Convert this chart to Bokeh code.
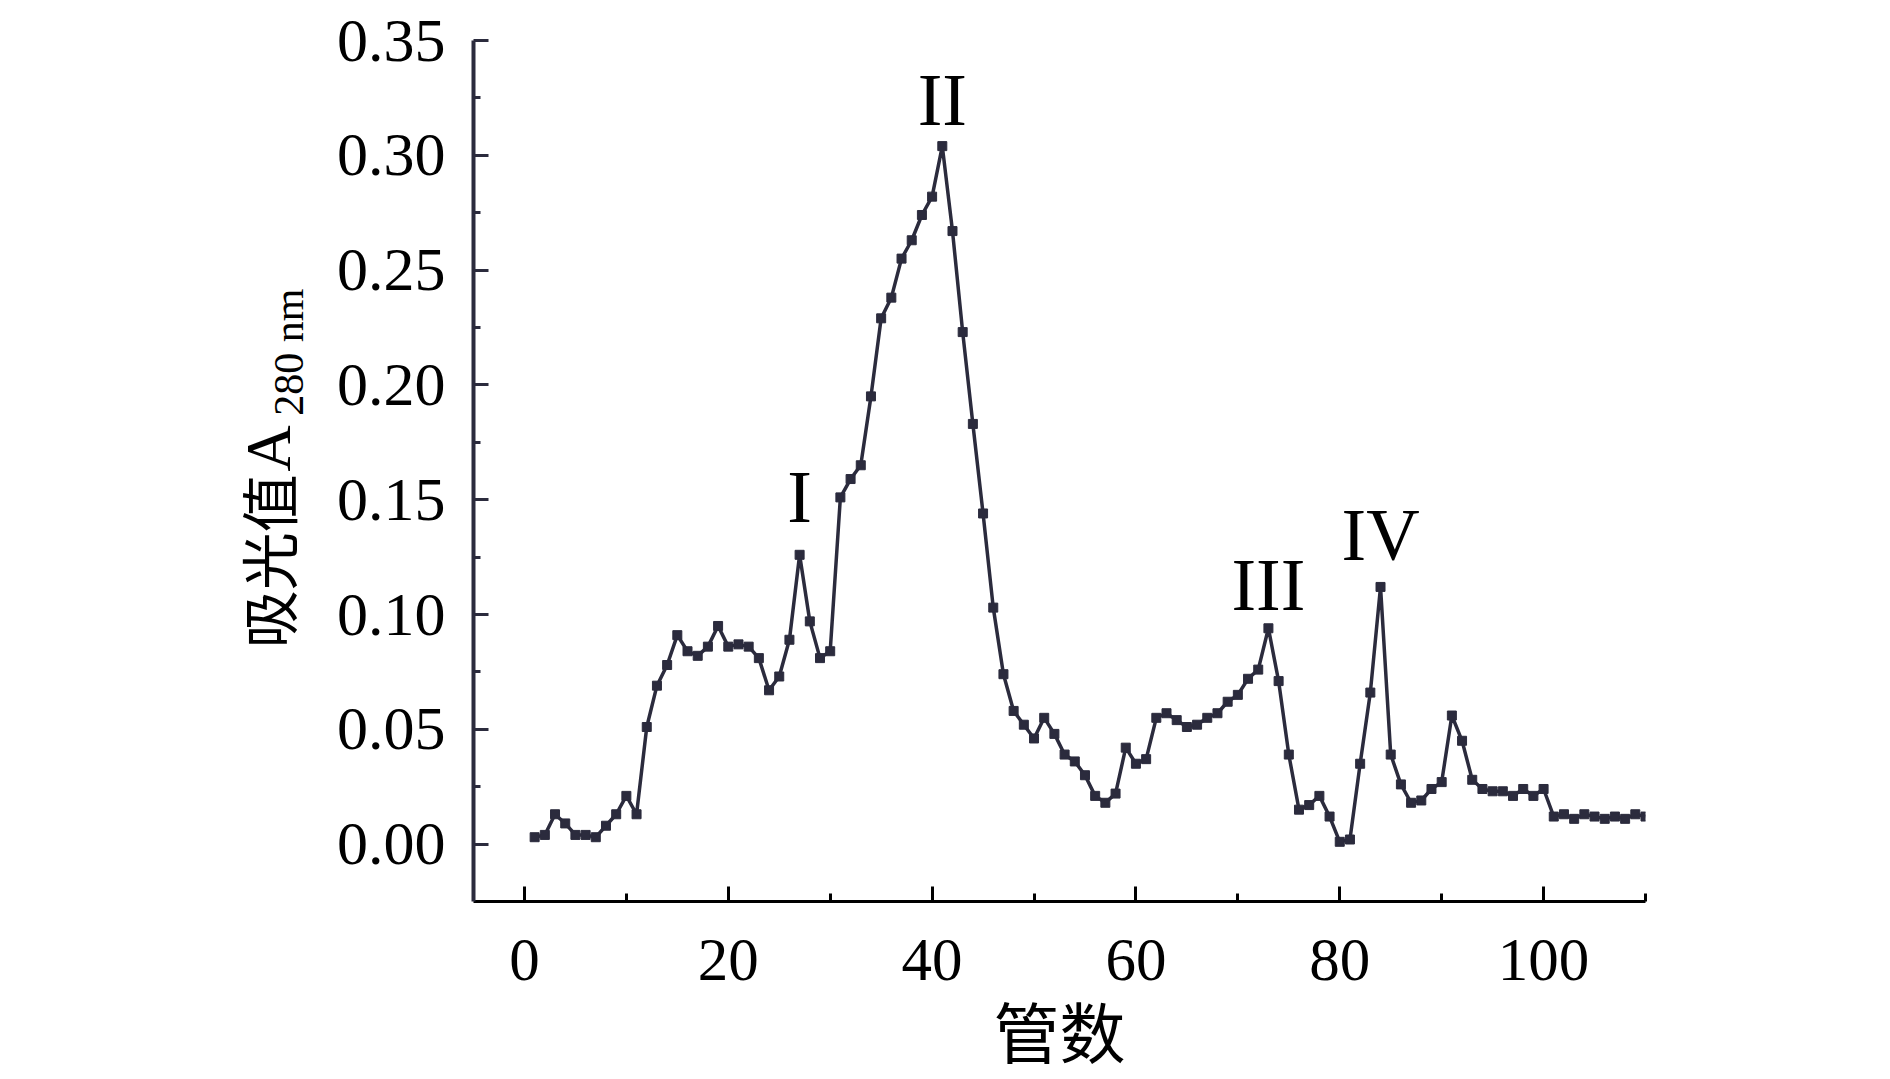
from bokeh.plotting import figure
from bokeh.layouts import row
from bokeh.models import Range1d, FixedTicker, PrintfTickFormatter, ColumnDataSource
from bokeh.core.properties import value
from bokeh.embed import file_html
from bokeh.resources import INLINE

# ---- data ----
tubes = list(range(1, 111))
absorbance = [
    0.003, 0.004, 0.013, 0.009, 0.004, 0.004, 0.003, 0.008, 0.013, 0.021,
    0.013, 0.051, 0.069, 0.078, 0.091, 0.084, 0.082, 0.086, 0.095, 0.086,
    0.087, 0.086, 0.081, 0.067, 0.073, 0.089, 0.126, 0.097, 0.081, 0.084,
    0.151, 0.159, 0.165, 0.195, 0.229, 0.238, 0.255, 0.263, 0.274, 0.282,
    0.304, 0.267, 0.223, 0.183, 0.144, 0.103, 0.074, 0.058, 0.052, 0.046,
    0.055, 0.048, 0.039, 0.036, 0.030, 0.021, 0.018, 0.022, 0.042, 0.035,
    0.037, 0.055, 0.057, 0.054, 0.051, 0.052, 0.055, 0.057, 0.062, 0.065,
    0.072, 0.076, 0.094, 0.071, 0.039, 0.015, 0.017, 0.021, 0.012, 0.001,
    0.002, 0.035, 0.066, 0.112, 0.039, 0.026, 0.018, 0.019, 0.024, 0.027,
    0.056, 0.045, 0.028, 0.024, 0.023, 0.023, 0.021, 0.024, 0.021, 0.024,
    0.012, 0.013, 0.011, 0.013, 0.012, 0.011, 0.012, 0.011, 0.013, 0.012,
]
peak_labels = ["I", "II", "III", "IV"]
peak_tubes = [27, 41, 73, 84]
x_ticks = [0, 20, 40, 60, 80, 100]
x_minor_ticks = [10, 30, 50, 70, 90, 110]
y_ticks = [0.00, 0.05, 0.10, 0.15, 0.20, 0.25, 0.30, 0.35]
y_minor_ticks = [0.025, 0.075, 0.125, 0.175, 0.225, 0.275, 0.325]
x_axis_title = "管数"
y_axis_title_cjk = "吸光值"
y_axis_title_a = "A"
y_axis_title_sub = "280 nm"

LINE = "#2b2b3d"
SERIF = "Liberation Serif"
CJK = "Noto Sans CJK SC"
H = 1071
TITLE_W = 330

# ---------- main plot ----------
p = figure(
    frame_width=1172, frame_height=861,
    min_border_left=473 - TITLE_W, min_border_right=229,
    min_border_top=40, min_border_bottom=170,
    x_range=Range1d(-5, 110), y_range=Range1d(-0.025, 0.35),
    output_backend="svg", toolbar_location=None,
)
p.outline_line_color = None
p.xgrid.visible = False
p.ygrid.visible = False
p.background_fill_color = "white"
p.border_fill_color = "white"

src = ColumnDataSource(data=dict(x=tubes, y=absorbance))
p.line("x", "y", source=src, line_color=LINE, line_width=3.5)
p.scatter("x", "y", source=src, marker="square", size=9,
          fill_color=LINE, line_color=LINE)

# peak labels (offset upward from each peak, in pixels)
peak_vals = [absorbance[t - 1] for t in peak_tubes]
label_dy = [-58, -46, -43, -52]
lsrc = ColumnDataSource(data=dict(x=peak_tubes, y=peak_vals, t=peak_labels, dy=label_dy))
p.text("x", "y", text="t", source=lsrc, y_offset="dy",
       text_align="center", text_baseline="alphabetic",
       text_font=value(SERIF), text_font_size="74px", text_color="black")

# x axis
xa = p.xaxis[0]
xa.ticker = FixedTicker(ticks=x_ticks, minor_ticks=x_minor_ticks)
xa.axis_line_color = "black"
xa.axis_line_width = 3
xa.major_tick_line_color = "black"
xa.minor_tick_line_color = "black"
xa.major_tick_line_width = 3
xa.minor_tick_line_width = 3
xa.major_tick_in = 15
xa.major_tick_out = 0
xa.minor_tick_in = 8
xa.minor_tick_out = 0
xa.major_label_text_font = SERIF
xa.major_label_text_font_size = "61px"
xa.major_label_text_color = "black"
xa.major_label_standoff = 38
xa.axis_label = x_axis_title
xa.axis_label_text_font = CJK
xa.axis_label_text_font_size = "66px"
xa.axis_label_text_font_style = "normal"
xa.axis_label_text_color = "black"
xa.axis_label_standoff = -2

# y axis
ya = p.yaxis[0]
ya.ticker = FixedTicker(ticks=y_ticks, minor_ticks=y_minor_ticks)
ya.formatter = PrintfTickFormatter(format="%.2f")
ya.axis_line_color = LINE
ya.axis_line_width = 4
ya.major_tick_line_color = LINE
ya.minor_tick_line_color = LINE
ya.major_tick_line_width = 3
ya.minor_tick_line_width = 3
ya.major_tick_in = 15
ya.major_tick_out = 0
ya.minor_tick_in = 7
ya.minor_tick_out = 0
ya.major_label_text_font = SERIF
ya.major_label_text_font_size = "62px"
ya.major_label_text_color = "black"
ya.major_label_standoff = 28

# ---------- y-axis title panel (left strip, pixel coordinates, y up) ----------
t = figure(
    width=TITLE_W, height=H,
    x_range=Range1d(0, TITLE_W), y_range=Range1d(0, H),
    min_border=0, output_backend="svg", toolbar_location=None,
)
t.axis.visible = False
t.xgrid.visible = False
t.ygrid.visible = False
t.outline_line_color = None
t.background_fill_color = "white"
t.border_fill_color = "white"

ang = 1.5707963267948966
t.text(x=[266], y=[H - 763], text=[y_axis_title_cjk], angle=ang,
       text_align="left", text_baseline="middle",
       text_font=value(CJK), text_font_size="58px", text_color="black")
t.text(x=[268], y=[H - 541], text=[y_axis_title_a], angle=ang,
       text_align="left", text_baseline="middle",
       text_font=value(SERIF), text_font_size="64px", text_color="black")
t.text(x=[288], y=[H - 471], text=[y_axis_title_sub], angle=ang,
       text_align="left", text_baseline="middle",
       text_font=value(SERIF), text_font_size="42px", text_color="black")

layout = row(t, p)
open("out.html", "w").write(file_html(layout, INLINE))
